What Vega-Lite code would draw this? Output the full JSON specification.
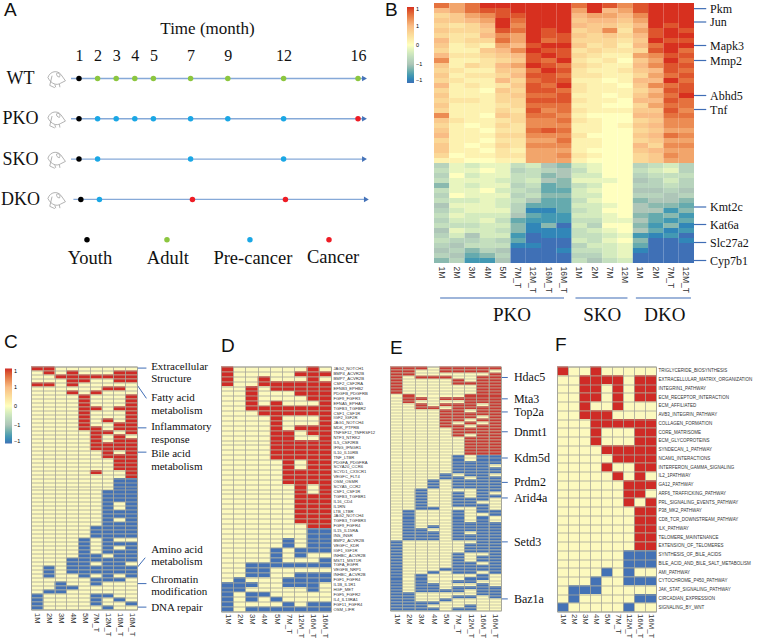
{"$schema":"https://vega.github.io/schema/vega-lite/v6.json","padding":{"left":0,"top":0,"right":0,"bottom":0},"bounds":"flush","spacing":363.5,"resolve":{"scale":{"color":"independent"},"legend":{"color":"independent"}},"config":{"view":{"stroke":null},"axis":{"labelFont":"Liberation Sans","labelColor":"#333333","domain":false,"ticks":false},"title":{"font":"Liberation Sans","fontWeight":"normal","fontSize":19,"color":"#111111","anchor":"start","frame":"group"},"text":{"font":"Liberation Serif","color":"#111111"}},"vconcat":[{"bounds":"flush","spacing":60,"resolve":{"scale":{"color":"independent"},"legend":{"color":"independent"}},"hconcat":[{"width":343,"height":260,"title":{"text":"A","dx":-27,"dy":5,"offset":-12},"encoding":{"x":{"field":"month","type":"quantitative","scale":{"domain":[-1.58,16.86],"nice":false,"zero":false},"axis":{"orient":"top","title":"Time (month)","titleFont":"Liberation Serif","titleFontWeight":"normal","titleFontSize":17,"titleColor":"#111111","titlePadding":10,"titleX":176,"values":[1,2,3,4,5,7,9,12,16],"labelFont":"Liberation Serif","labelFontSize":16,"labelColor":"#111111","labelPadding":1,"offset":-61,"grid":false,"labelFlush":false,"labelOverlap":false}},"y":{"field":"lane","type":"quantitative","scale":{"domain":[5.578,-0.873],"nice":false,"zero":false},"axis":{"title":null,"values":[1,2,3,4],"labelExpr":"['','WT','PKO','SKO','DKO'][datum.value]","labelFont":"Liberation Serif","labelFontSize":18,"labelColor":"#111111","labelAlign":"center","labelPadding":11,"grid":false}}},"layer":[{"data":{"values":[{"lane":1,"month":0.57,"end":16.3},{"lane":2,"month":0.57,"end":16.3},{"lane":3,"month":0.57,"end":16.3},{"lane":4,"month":0.7,"end":16.4}]},"mark":{"type":"rule","color":"#86A9D8","strokeWidth":1.4},"encoding":{"x2":{"field":"end"}}},{"data":{"values":[{"lane":1,"month":16.35},{"lane":2,"month":16.35},{"lane":3,"month":16.35},{"lane":4,"month":16.45}]},"mark":{"type":"point","shape":"triangle-right","filled":true,"color":"#4472B8","size":32,"opacity":1}},{"data":{"values":[{"lane":1,"month":-0.2},{"lane":2,"month":-0.2},{"lane":3,"month":-0.2},{"lane":4,"month":-0.2}]},"mark":{"type":"point","shape":"M-0.95,-0.1 C-0.7,-0.85 0.1,-0.9 0.45,-0.45 L0.95,0.25 L0.45,0.5 C0,0.8 -0.6,0.6 -0.95,-0.1 Z M-0.5,-0.3 L-0.75,0.75 L-0.2,1 M0,-0.55 C0.25,-0.7 0.45,-0.4 0.3,-0.15 C0.05,-0.2 -0.05,-0.35 0,-0.55 Z M-0.2,0.65 L-0.1,0.95 M0.3,0.6 L0.35,0.95","filled":false,"color":"#A0A0A0","size":340,"strokeWidth":0.8,"opacity":1}},{"data":{"values":[{"lane":1,"month":1,"stage":"Youth"},{"lane":1,"month":2,"stage":"Adult"},{"lane":1,"month":3,"stage":"Adult"},{"lane":1,"month":4,"stage":"Adult"},{"lane":1,"month":5,"stage":"Adult"},{"lane":1,"month":7,"stage":"Adult"},{"lane":1,"month":9,"stage":"Adult"},{"lane":1,"month":12,"stage":"Adult"},{"lane":1,"month":16,"stage":"Adult"},{"lane":2,"month":1,"stage":"Youth"},{"lane":2,"month":2,"stage":"Pre-cancer"},{"lane":2,"month":3,"stage":"Pre-cancer"},{"lane":2,"month":4,"stage":"Pre-cancer"},{"lane":2,"month":5,"stage":"Pre-cancer"},{"lane":2,"month":7,"stage":"Pre-cancer"},{"lane":2,"month":9,"stage":"Pre-cancer"},{"lane":2,"month":12,"stage":"Pre-cancer"},{"lane":2,"month":16,"stage":"Cancer"},{"lane":3,"month":1,"stage":"Youth"},{"lane":3,"month":2,"stage":"Pre-cancer"},{"lane":3,"month":7,"stage":"Pre-cancer"},{"lane":3,"month":12,"stage":"Pre-cancer"},{"lane":4,"month":1.1,"stage":"Youth"},{"lane":4,"month":2.1,"stage":"Pre-cancer"},{"lane":4,"month":7.1,"stage":"Cancer"},{"lane":4,"month":12.1,"stage":"Cancer"},{"lane":5,"month":1.43,"stage":"Youth"},{"lane":5,"month":5.73,"stage":"Adult"},{"lane":5,"month":10.19,"stage":"Pre-cancer"},{"lane":5,"month":14.44,"stage":"Cancer"}]},"mark":{"type":"point","filled":true,"size":30,"opacity":1},"encoding":{"color":{"field":"stage","type":"nominal","legend":null,"scale":{"domain":["Youth","Adult","Pre-cancer","Cancer"],"range":["#000000","#8CC63F","#1AA7E5","#EE1C25"]}}}},{"data":{"values":[{"label":"Youth","month":1.59,"lane":5.45},{"label":"Adult","month":5.78,"lane":5.45},{"label":"Pre-cancer","month":10.35,"lane":5.45},{"label":"Cancer","month":14.66,"lane":5.42}]},"mark":{"type":"text","fontSize":18.5},"encoding":{"text":{"field":"label"}}}]},{"width":260,"height":260,"title":{"text":"B","dx":-49,"dy":5,"offset":-12},"layer":[{"data":{"values":[{"r":0,"a":0.8,"b":0.6,"c":0.8,"d":1,"e":1,"f":1,"g":1,"h":1,"i":1,"j":0.8,"k":1,"l":0.9,"m":0.7,"n":0.9,"o":1,"p":1,"q":1},{"r":1,"a":0.5,"b":0.6,"c":0.8,"d":0.9,"e":0.9,"f":1,"g":1,"h":1,"i":1,"j":0.6,"k":1,"l":0.5,"m":0.6,"n":0.9,"o":1,"p":1,"q":1},{"r":2,"a":0.3,"b":0.4,"c":0.6,"d":0.7,"e":0.9,"f":0.9,"g":1,"h":1,"i":1,"j":0.5,"k":0.6,"l":0.6,"m":0.5,"n":0.7,"o":1,"p":1,"q":1},{"r":3,"a":0.4,"b":0.4,"c":0.5,"d":0.6,"e":1,"f":0.8,"g":1,"h":1,"i":1,"j":0.4,"k":0.5,"l":0.5,"m":0.4,"n":0.6,"o":1,"p":1,"q":1},{"r":4,"a":0.3,"b":0.2,"c":0.3,"d":0.5,"e":1,"f":0.7,"g":1,"h":1,"i":1,"j":0.5,"k":0.4,"l":0.4,"m":0.3,"n":0.5,"o":1,"p":0.9,"q":1},{"r":5,"a":0.4,"b":0.3,"c":0.3,"d":0.4,"e":0.9,"f":0.8,"g":1,"h":0.9,"i":1,"j":0.3,"k":0.4,"l":0.7,"m":0.2,"n":0.6,"o":0.9,"p":1,"q":0.9},{"r":6,"a":0.3,"b":0.2,"c":0.2,"d":0.5,"e":0.7,"f":0.6,"g":1,"h":0.9,"i":0.9,"j":0.4,"k":0.3,"l":0.4,"m":0.3,"n":0.5,"o":0.9,"p":1,"q":1},{"r":7,"a":0.5,"b":0.2,"c":0.3,"d":0.3,"e":0.8,"f":0.6,"g":1,"h":0.8,"i":0.9,"j":0.3,"k":0.3,"l":0.3,"m":0.2,"n":0.4,"o":1,"p":0.9,"q":0.9},{"r":8,"a":0.4,"b":0.1,"c":0.2,"d":0.1,"e":0.6,"f":0.5,"g":0.9,"h":1,"i":1,"j":0.4,"k":0.2,"l":0.3,"m":0.1,"n":0.5,"o":0.8,"p":1,"q":1},{"r":9,"a":0.3,"b":0.1,"c":0.1,"d":0.4,"e":0.5,"f":0.7,"g":1,"h":0.9,"i":0.9,"j":0.2,"k":0.3,"l":0.2,"m":0.2,"n":0.3,"o":0.9,"p":1,"q":0.8},{"r":10,"a":0.5,"b":0.2,"c":0.2,"d":0.3,"e":0.4,"f":0.5,"g":0.9,"h":1,"i":0.9,"j":0.3,"k":0.2,"l":0.1,"m":0.1,"n":0.6,"o":0.7,"p":0.9,"q":0.9},{"r":11,"a":0.7,"b":0.1,"c":0.1,"d":0.2,"e":0.3,"f":0.4,"g":0.9,"h":0.8,"i":1,"j":0.2,"k":0.1,"l":0.2,"m":0,"n":0.4,"o":0.6,"p":1,"q":0.8},{"r":12,"a":0.4,"b":0.1,"c":0.3,"d":0.2,"e":0.5,"f":0.6,"g":1,"h":0.9,"i":0.8,"j":0.3,"k":0.2,"l":0.1,"m":0.1,"n":0.5,"o":0.7,"p":0.9,"q":0.9},{"r":13,"a":0.3,"b":0.2,"c":0.1,"d":0.1,"e":0.4,"f":0.4,"g":0.8,"h":1,"i":0.9,"j":0.2,"k":0.1,"l":0.1,"m":0.2,"n":0.4,"o":0.5,"p":0.9,"q":0.8},{"r":14,"a":0.4,"b":0.1,"c":0.2,"d":0.2,"e":0.3,"f":0.5,"g":0.9,"h":0.9,"i":0.8,"j":0.2,"k":0.2,"l":0.1,"m":0.1,"n":0.3,"o":0.6,"p":0.8,"q":0.9},{"r":15,"a":0.3,"b":0.2,"c":0.1,"d":0.1,"e":0.5,"f":0.3,"g":0.8,"h":0.9,"i":0.9,"j":0.1,"k":0.1,"l":0,"m":0.1,"n":0.5,"o":0.5,"p":1,"q":0.8},{"r":16,"a":0.5,"b":0.1,"c":0.2,"d":0.1,"e":0.2,"f":0.4,"g":0.9,"h":0.8,"i":1,"j":0.2,"k":0.1,"l":0.1,"m":0,"n":0.4,"o":0.7,"p":0.8,"q":0.9},{"r":17,"a":0.3,"b":0.1,"c":0.1,"d":0,"e":0.4,"f":0.3,"g":0.9,"h":0.9,"i":0.8,"j":0.2,"k":0.1,"l":0.1,"m":0.1,"n":0.3,"o":0.5,"p":0.9,"q":0.9},{"r":18,"a":0.4,"b":0.1,"c":0.1,"d":0.1,"e":0.3,"f":0.4,"g":0.8,"h":0.8,"i":0.9,"j":0.1,"k":0.1,"l":0,"m":0.1,"n":0.4,"o":0.6,"p":0.8,"q":1},{"r":19,"a":0.3,"b":0.2,"c":0.2,"d":0.1,"e":0.3,"f":0.3,"g":0.9,"h":0.9,"i":0.9,"j":0.2,"k":0.1,"l":0.1,"m":0,"n":0.5,"o":0.5,"p":0.9,"q":0.8},{"r":20,"a":0.4,"b":0.1,"c":0.1,"d":0.1,"e":0.2,"f":0.3,"g":0.8,"h":0.8,"i":0.8,"j":0.1,"k":0.1,"l":0,"m":0,"n":0.3,"o":0.6,"p":0.8,"q":0.8},{"r":21,"a":0.3,"b":0.1,"c":0.1,"d":0.1,"e":0.3,"f":0.2,"g":0.9,"h":0.7,"i":0.8,"j":0.2,"k":0.1,"l":0.1,"m":0.1,"n":0.4,"o":0.4,"p":0.9,"q":0.7},{"r":22,"a":0.7,"b":0.1,"c":0.1,"d":0,"e":0.4,"f":0.3,"g":0.8,"h":0.8,"i":0.7,"j":0.1,"k":0,"l":0,"m":0,"n":0.5,"o":0.5,"p":0.8,"q":0.8},{"r":23,"a":0.4,"b":0.2,"c":0.1,"d":0.1,"e":0.2,"f":0.3,"g":0.7,"h":0.7,"i":0.8,"j":0.2,"k":0.1,"l":0,"m":0,"n":0.3,"o":0.4,"p":0.7,"q":0.7},{"r":24,"a":0.3,"b":0.1,"c":0,"d":0.1,"e":0.3,"f":0.2,"g":0.7,"h":0.7,"i":0.7,"j":0.1,"k":0.1,"l":0,"m":0.1,"n":0.4,"o":0.5,"p":0.7,"q":0.7},{"r":25,"a":0.4,"b":0.1,"c":0.1,"d":0,"e":0.2,"f":0.2,"g":0.8,"h":0.9,"i":0.8,"j":0.1,"k":0.1,"l":0,"m":0,"n":0.3,"o":0.4,"p":0.6,"q":0.6},{"r":26,"a":0.5,"b":0.1,"c":0.1,"d":0.1,"e":0.3,"f":0.3,"g":0.7,"h":0.7,"i":0.7,"j":0.2,"k":0,"l":0,"m":0,"n":0.4,"o":0.5,"p":0.8,"q":0.7},{"r":27,"a":0.3,"b":0.1,"c":0.1,"d":0,"e":0.2,"f":0.2,"g":0.6,"h":0.6,"i":0.8,"j":0.1,"k":0.1,"l":0,"m":0,"n":0.3,"o":0.4,"p":0.6,"q":0.6},{"r":28,"a":0.4,"b":0.1,"c":0,"d":0.1,"e":0.3,"f":0.2,"g":0.7,"h":0.7,"i":0.7,"j":0.1,"k":0.1,"l":0,"m":0,"n":0.5,"o":0.3,"p":0.7,"q":0.7},{"r":29,"a":0.4,"b":0.1,"c":0.1,"d":0,"e":0.2,"f":0.1,"g":0.6,"h":0.6,"i":0.6,"j":0.1,"k":0,"l":0,"m":0,"n":0.4,"o":0.5,"p":0.6,"q":0.6},{"r":30,"a":0.3,"b":0,"c":0.1,"d":0.1,"e":0.2,"f":0.2,"g":0.6,"h":0.6,"i":0.7,"j":0.2,"k":0.1,"l":0,"m":0,"n":0.3,"o":0.4,"p":0.7,"q":0.6},{"r":31,"a":0.1,"b":0.1,"c":0,"d":0,"e":0.1,"f":0.1,"g":0.6,"h":0.6,"i":0.6,"j":0.1,"k":0,"l":0,"m":0,"n":0.3,"o":0.4,"p":0.6,"q":0.6},{"r":32,"a":-0.4,"b":-0.1,"c":-0.2,"d":-0.1,"e":-0.1,"f":-0.3,"g":-0.2,"h":-0.5,"i":-0.6,"j":-0.2,"k":-0.1,"l":0,"m":0,"n":-0.4,"o":-0.3,"p":-0.2,"q":-0.4},{"r":33,"a":-0.3,"b":-0.1,"c":-0.1,"d":0,"e":-0.1,"f":-0.4,"g":-0.3,"h":-0.4,"i":-0.5,"j":-0.3,"k":-0.1,"l":0,"m":0,"n":-0.3,"o":-0.2,"p":-0.1,"q":-0.4},{"r":34,"a":-0.4,"b":0,"c":-0.2,"d":-0.1,"e":-0.1,"f":-0.3,"g":-0.3,"h":-0.6,"i":-0.5,"j":-0.2,"k":-0.2,"l":0,"m":0,"n":-0.4,"o":-0.3,"p":-0.3,"q":-0.3},{"r":35,"a":-0.3,"b":-0.1,"c":-0.1,"d":-0.1,"e":-0.2,"f":-0.3,"g":-0.2,"h":-0.5,"i":-0.6,"j":-0.1,"k":-0.1,"l":-0.1,"m":0,"n":-0.5,"o":-0.4,"p":-0.2,"q":-0.4},{"r":36,"a":-0.6,"b":-0.1,"c":-0.2,"d":-0.1,"e":-0.1,"f":-0.4,"g":-0.3,"h":-0.7,"i":-0.6,"j":-0.3,"k":-0.2,"l":0,"m":0,"n":-0.4,"o":-0.4,"p":-0.3,"q":-0.4},{"r":37,"a":-0.3,"b":-0.1,"c":-0.1,"d":0,"e":-0.2,"f":-0.3,"g":-0.4,"h":-0.7,"i":-0.7,"j":-0.2,"k":-0.1,"l":0,"m":0,"n":-0.5,"o":-0.5,"p":-0.4,"q":-0.5},{"r":38,"a":-0.4,"b":0,"c":-0.1,"d":-0.1,"e":-0.1,"f":-0.4,"g":-0.3,"h":-0.6,"i":-0.6,"j":-0.2,"k":-0.2,"l":0,"m":0,"n":-0.4,"o":-0.4,"p":-0.5,"q":-0.4},{"r":39,"a":-0.3,"b":-0.2,"c":-0.2,"d":-0.1,"e":-0.2,"f":-0.3,"g":-0.5,"h":-0.7,"i":-0.7,"j":-0.3,"k":-0.1,"l":0,"m":0,"n":-0.6,"o":-0.5,"p":-0.5,"q":-0.6},{"r":40,"a":-0.5,"b":-0.1,"c":-0.1,"d":-0.1,"e":-0.2,"f":-0.4,"g":-0.7,"h":-0.7,"i":-0.7,"j":-0.2,"k":-0.2,"l":-0.1,"m":0,"n":-0.5,"o":-0.6,"p":-0.6,"q":-0.7},{"r":41,"a":-0.4,"b":-0.2,"c":-0.1,"d":-0.1,"e":-0.1,"f":-0.4,"g":-0.9,"h":-0.9,"i":-0.7,"j":-0.3,"k":-0.2,"l":0,"m":0,"n":-0.5,"o":-0.5,"p":-0.8,"q":-0.6},{"r":42,"a":-0.3,"b":-0.1,"c":-0.2,"d":-0.2,"e":-0.2,"f":-0.5,"g":-0.7,"h":-0.8,"i":-0.8,"j":-0.2,"k":-0.2,"l":-0.1,"m":0,"n":-0.6,"o":-0.7,"p":-0.6,"q":-0.8},{"r":43,"a":-0.4,"b":-0.2,"c":-0.2,"d":-0.1,"e":-0.3,"f":-0.7,"g":-0.8,"h":-0.8,"i":-0.8,"j":-0.3,"k":-0.3,"l":-0.1,"m":-0.1,"n":-0.5,"o":-0.7,"p":-0.8,"q":-0.7},{"r":44,"a":-0.3,"b":-0.3,"c":-0.3,"d":-0.2,"e":-0.2,"f":-0.6,"g":-0.9,"h":-0.6,"i":-1,"j":-0.2,"k":-0.4,"l":0,"m":0,"n":-0.6,"o":-0.8,"p":-0.6,"q":-0.9},{"r":45,"a":-0.5,"b":-0.1,"c":-0.2,"d":-0.2,"e":-0.3,"f":-0.6,"g":-0.9,"h":-0.9,"i":-0.9,"j":-0.3,"k":-0.2,"l":-0.1,"m":0,"n":-0.5,"o":-0.7,"p":-0.9,"q":-0.8},{"r":46,"a":-0.4,"b":-0.2,"c":-0.5,"d":-0.2,"e":-0.2,"f":-0.8,"g":-1,"h":-0.9,"i":-0.9,"j":-0.3,"k":-0.3,"l":-0.2,"m":-0.1,"n":-0.8,"o":-0.9,"p":-0.8,"q":-1},{"r":47,"a":-0.3,"b":-0.4,"c":-0.4,"d":-0.3,"e":-0.4,"f":-0.7,"g":-1,"h":-1,"i":-1,"j":-0.2,"k":-0.3,"l":-0.1,"m":0,"n":-0.6,"o":-1,"p":-1,"q":-0.9},{"r":48,"a":-0.4,"b":-0.5,"c":-0.3,"d":-0.3,"e":-0.3,"f":-0.9,"g":-0.9,"h":-1,"i":-1,"j":-0.4,"k":-0.2,"l":-0.2,"m":-0.1,"n":-0.7,"o":-1,"p":-1,"q":-1},{"r":49,"a":-0.5,"b":-0.4,"c":-0.6,"d":-0.4,"e":-0.5,"f":-1,"g":-1,"h":-1,"i":-0.9,"j":-0.3,"k":-0.3,"l":-0.2,"m":-0.1,"n":-0.9,"o":-1,"p":-1,"q":-1},{"r":50,"a":-0.4,"b":-0.5,"c":-0.7,"d":-0.6,"e":-0.4,"f":-1,"g":-1,"h":-1,"i":-1,"j":-0.4,"k":-0.4,"l":-0.2,"m":-0.1,"n":-1,"o":-1,"p":-1,"q":-1},{"r":51,"a":-0.6,"b":-0.4,"c":-0.8,"d":-0.8,"e":-0.5,"f":-1,"g":-1,"h":-1,"i":-1,"j":-0.3,"k":-0.5,"l":-0.3,"m":-0.2,"n":-1,"o":-1,"p":-1,"q":-1}]},"transform":[{"fold":["a","b","c","d","e","f","g","h","i","j","k","l","m","n","o","p","q"],"as":["col","v"]}],"mark":"rect","encoding":{"x":{"field":"col","type":"nominal","scale":{"domain":["a","b","c","d","e","f","g","h","i","j","k","l","m","n","o","p","q"]},"axis":{"title":null,"labelExpr":"{'a':'1M','b':'2M','c':'3M','d':'4M','e':'5M','f':'7M_T','g':'12M_T','h':'16M_T','i':'16M_T','j':'1M','k':'2M','l':'7M','m':'12M','n':'1M','o':'2M','p':'7M_T','q':'12M_T'}[datum.value]","labelAngle":90,"labelFontSize":8.5,"labelPadding":3,"labelOverlap":false,"grid":false}},"y":{"field":"r","type":"ordinal","axis":null},"color":{"field":"v","type":"quantitative","scale":{"domain":[-1,-0.5,0,0.5,1],"range":["#3F70B6","#AEC6B8","#FFFFBF","#F9BC85","#D7301F"]},"legend":{"orient":"none","legendX":-27,"legendY":4,"title":null,"gradientLength":76,"gradientThickness":7,"labelFontSize":5.5,"values":[-1,-0.5,0,0.5,1],"labelFont":"Liberation Sans"}}}},{"data":{"values":[{"x":17,"x2":17.8,"y":1.13,"y2":1.13},{"x":17,"x2":17.8,"y":3.8,"y2":3.8},{"x":17,"x2":17.8,"y":8.5,"y2":8.5},{"x":17,"x2":17.8,"y":11.5,"y2":11.5},{"x":17,"x2":17.8,"y":18.5,"y2":18.5},{"x":17,"x2":17.8,"y":21.3,"y2":21.3},{"x":17,"x2":17.8,"y":40.8,"y2":40.8},{"x":17,"x2":17.8,"y":44.3,"y2":44.3},{"x":17,"x2":17.8,"y":47.9,"y2":47.9},{"x":17,"x2":17.8,"y":51.5,"y2":51.5},{"x":0.4,"x2":8.5,"y":59,"y2":59},{"x":9.25,"x2":12.65,"y":59,"y2":59},{"x":13.2,"x2":16.8,"y":59,"y2":59}]},"mark":{"type":"rule","color":"#3F6DB5","strokeWidth":1.2},"encoding":{"x":{"field":"x","type":"quantitative","scale":{"domain":[0,17],"nice":false,"zero":false},"axis":null},"x2":{"field":"x2"},"y":{"field":"y","type":"quantitative","scale":{"domain":[52,0],"nice":false,"zero":false},"axis":null},"y2":{"field":"y2"}}},{"data":{"values":[{"x":18.05,"y":1.13,"t":"Pkm"},{"x":18.05,"y":3.8,"t":"Jun"},{"x":18.05,"y":8.5,"t":"Mapk3"},{"x":18.05,"y":11.5,"t":"Mmp2"},{"x":18.05,"y":18.5,"t":"Abhd5"},{"x":18.05,"y":21.3,"t":"Tnf"},{"x":18.05,"y":40.8,"t":"Kmt2c"},{"x":18.05,"y":44.3,"t":"Kat6a"},{"x":18.05,"y":47.9,"t":"Slc27a2"},{"x":18.05,"y":51.5,"t":"Cyp7b1"}]},"mark":{"type":"text","fontSize":12,"align":"left"},"encoding":{"x":{"field":"x","type":"quantitative","scale":{"domain":[0,17],"nice":false,"zero":false},"axis":null},"y":{"field":"y","type":"quantitative","scale":{"domain":[52,0],"nice":false,"zero":false},"axis":null},"text":{"field":"t"}}},{"data":{"values":[{"x":5.1,"y":62.3,"t":"PKO"},{"x":11,"y":62.3,"t":"SKO"},{"x":15.1,"y":62.3,"t":"DKO"}]},"mark":{"type":"text","fontSize":19,"align":"center"},"encoding":{"x":{"field":"x","type":"quantitative","scale":{"domain":[0,17],"nice":false,"zero":false},"axis":null},"y":{"field":"y","type":"quantitative","scale":{"domain":[52,0],"nice":false,"zero":false},"axis":null},"text":{"field":"t"}}}],"resolve":{"scale":{"x":"independent","y":"independent"}}}]},{"bounds":"flush","spacing":0,"resolve":{"scale":{"color":"independent"},"legend":{"color":"independent"}},"hconcat":[{"width":106,"height":243,"title":{"text":"C","dx":-27,"offset":9},"view":{"fill":"#FCF9BE","stroke":"#A6A69A"},"layer":[{"data":{"values":[{"r":0,"a":1,"b":1},{"r":1,"b":1,"d":1,"h":1,"i":1},{"r":2,"c":1,"d":1,"e":1,"f":1,"g":1,"h":1,"i":1},{"r":3,"d":1,"e":1,"h":1,"i":1},{"r":4,"a":1,"b":1,"d":1},{"r":5,"g":1,"h":1},{"r":6,"d":1,"f":1},{"r":7,"e":1,"i":1},{"r":8,"e":1,"i":1},{"r":9,"e":1,"i":1},{"r":10,"e":1,"f":1,"h":1,"i":1},{"r":11,"e":1,"i":1},{"r":12,"e":1,"i":1},{"r":13,"e":1,"g":1,"i":1},{"r":14,"e":1,"h":1,"i":1},{"r":15,"e":1,"f":1,"h":1,"i":1},{"r":16,"f":1,"g":1,"i":1},{"r":17,"f":1,"h":1},{"r":18,"f":1,"h":1,"i":1},{"r":19,"f":1,"g":1,"h":1,"i":1},{"r":20,"f":1,"g":1,"h":1,"i":1},{"r":21,"g":1,"i":1},{"r":22,"g":1,"h":1,"i":1},{"r":23,"h":1,"i":1},{"r":24,"h":1,"i":1},{"r":25,"h":1,"i":1},{"r":26,"f":1,"i":1},{"r":27,"i":1},{"r":28,"h":-1,"i":-1},{"r":29,"h":-1,"i":-1},{"r":30,"h":-1,"i":-1},{"r":31,"g":-1,"h":-1,"i":-1},{"r":32,"g":-1,"h":-1,"i":-1},{"r":33,"g":-1,"h":-1,"i":-1},{"r":34,"g":-1,"i":-1},{"r":35,"g":-1,"i":-1},{"r":36,"g":-1,"h":-1,"i":-1},{"r":37,"g":-1,"h":-1,"i":-1},{"r":38,"g":-1,"i":-1},{"r":39,"g":-1,"h":-1,"i":-1},{"r":40,"f":-1,"g":-1,"h":-1,"i":-1},{"r":41,"f":-1,"g":-1,"h":-1,"i":-1},{"r":42,"f":-1,"g":-1,"h":-1,"i":-1},{"r":43,"e":-1,"g":-1},{"r":44,"e":-1,"g":-1,"h":-1,"i":-1},{"r":45,"e":-1,"g":-1,"i":-1},{"r":46,"e":-1,"g":-1,"h":-1,"i":-1},{"r":47,"e":-1,"f":-1,"h":-1,"i":-1},{"r":48,"d":-1,"e":-1,"f":-1,"g":-1,"h":-1,"i":-1},{"r":49,"d":-1,"e":-1,"g":-1,"h":-1},{"r":50,"b":-1,"d":-1,"e":-1,"f":-1,"g":-1,"h":-1,"i":-1},{"r":51,"b":-1,"d":-1,"e":-1,"f":-1,"g":-1,"h":-1,"i":-1},{"r":52,"b":-1,"e":-1,"g":-1,"i":-1},{"r":53,"f":-1,"g":-1,"h":-1},{"r":54,"c":-1,"f":-1},{"r":55,"c":-1,"d":-1},{"r":56,"b":-1,"c":-1},{"r":57,"a":-1,"f":-1,"g":-1},{"r":58,"a":-1,"f":-1,"h":-1},{"r":59,"a":-1,"f":-1,"i":-1},{"r":60,"a":-1,"g":-1}]},"transform":[{"fold":["a","b","c","d","e","f","g","h","i"],"as":["col","v"]},{"filter":"isValid(datum.v)"}],"mark":"rect","encoding":{"x":{"field":"col","type":"nominal","scale":{"domain":["a","b","c","d","e","f","g","h","i"]},"axis":{"title":null,"labelExpr":"{'a':'1M','b':'2M','c':'3M','d':'4M','e':'5M','f':'7M_T','g':'12M_T','h':'16M_T','i':'16M_T'}[datum.value]","labelAngle":90,"labelFontSize":7.5,"labelPadding":3,"labelOverlap":false,"grid":true,"tickBand":"extent","gridColor":"#A6A69A","gridWidth":0.8,"zindex":1}},"y":{"field":"r","type":"ordinal","scale":{"domain":[0,1,2,3,4,5,6,7,8,9,10,11,12,13,14,15,16,17,18,19,20,21,22,23,24,25,26,27,28,29,30,31,32,33,34,35,36,37,38,39,40,41,42,43,44,45,46,47,48,49,50,51,52,53,54,55,56,57,58,59,60]},"axis":{"title":null,"labels":false,"grid":true,"tickBand":"extent","gridColor":"#A6A69A","gridWidth":0.8,"zindex":1}},"color":{"field":"v","type":"quantitative","scale":{"domain":[-1,-0.5,0,0.5,1],"range":["#4472B5","#AEC6B8","#FFFFBF","#F9BC85","#CF2B26"]},"legend":{"orient":"none","legendX":-26,"legendY":2,"title":null,"gradientLength":75,"gradientThickness":7,"labelFontSize":5.5,"values":[-1,-0.5,0,0.5,1],"labelFont":"Liberation Sans"}}}},{"data":{"values":[{"x":9,"x2":9.8,"y":0.4,"y2":0.4},{"x":9,"x2":9.8,"y":15.4,"y2":15.4},{"x":9,"x2":9.8,"y":21.5,"y2":21.5},{"x":9,"x2":9.8,"y":54.5,"y2":54.5},{"x":9,"x2":9.8,"y":60.4,"y2":60.4},{"x":9,"x2":9.8,"y":4.6,"y2":8},{"x":9,"x2":9.7,"y":50.5,"y2":48}]},"mark":{"type":"rule","color":"#3F6DB5","strokeWidth":1},"encoding":{"x":{"field":"x","type":"quantitative","scale":{"domain":[0,9],"nice":false,"zero":false},"axis":null},"x2":{"field":"x2"},"y":{"field":"y","type":"quantitative","scale":{"domain":[61,0],"nice":false,"zero":false},"axis":null},"y2":{"field":"y2"}}},{"data":{"values":[{"x":10.2,"y":0.2,"t":"Extracellular"},{"x":10.2,"y":3.2,"t":"Structure"},{"x":10.2,"y":8,"t":"Fatty acid"},{"x":10.2,"y":11.2,"t":"metabolism"},{"x":10.2,"y":15.3,"t":"Inflammatory"},{"x":10.2,"y":18.4,"t":"response"},{"x":10.2,"y":22,"t":"Bile acid"},{"x":10.2,"y":25.2,"t":"metabolism"},{"x":10.2,"y":46.1,"t":"Amino acid"},{"x":10.2,"y":49.2,"t":"metabolism"},{"x":10.2,"y":53.5,"t":"Chromatin"},{"x":10.2,"y":56.5,"t":"modification"},{"x":10.2,"y":60.6,"t":"DNA repair"}]},"mark":{"type":"text","fontSize":11,"align":"left"},"encoding":{"x":{"field":"x","type":"quantitative","scale":{"domain":[0,9],"nice":false,"zero":false},"axis":null},"y":{"field":"y","type":"quantitative","scale":{"domain":[61,0],"nice":false,"zero":false},"axis":null},"text":{"field":"t"}}}],"resolve":{"scale":{"x":"independent","y":"independent"}}},{"width":84,"height":10,"data":{"values":[]},"mark":"rect","encoding":{}},{"width":110,"height":245,"title":{"text":"D","dx":0,"offset":9},"view":{"fill":"#FCF9BE","stroke":"#A6A69A"},"data":{"values":[{"r":1,"a":1,"h":1},{"r":2,"a":1,"g":1,"h":1,"i":1},{"r":3,"a":1,"d":1,"h":1},{"r":4,"a":1,"d":1,"e":1,"f":1,"g":1,"h":1,"i":1},{"r":5,"c":1,"e":1,"f":1,"g":1,"h":1,"i":1},{"r":6,"c":1,"g":1,"h":1,"i":1},{"r":7,"c":1,"h":1,"i":1},{"r":8,"c":1,"e":1,"i":1},{"r":9,"c":1,"d":1,"e":1,"f":1,"g":1,"h":1,"i":1},{"r":10,"d":1,"e":1,"f":1,"g":1,"h":1,"i":1},{"r":11,"e":1,"i":1},{"r":12,"e":1,"i":1},{"r":13,"e":1,"g":1,"h":1,"i":1},{"r":14,"e":1,"f":1,"h":1,"i":1},{"r":15,"e":1,"f":1,"i":1},{"r":16,"e":1,"f":1,"g":1,"h":1,"i":1},{"r":17,"e":1,"f":1,"g":1,"h":1,"i":1},{"r":18,"e":1,"f":1,"g":1,"h":1,"i":1},{"r":19,"e":1,"f":1,"g":1,"h":1,"i":1},{"r":20,"f":1,"h":1,"i":1},{"r":21,"f":1,"h":1,"i":1},{"r":22,"f":1,"g":1,"h":1,"i":1},{"r":23,"f":1,"g":1,"h":1,"i":1},{"r":24,"f":1,"g":1,"h":1,"i":1},{"r":25,"g":1,"i":1},{"r":26,"g":1,"i":1},{"r":27,"g":1,"h":1,"i":1},{"r":28,"g":1,"h":1,"i":1},{"r":29,"g":1,"h":1,"i":1},{"r":30,"g":1,"h":1,"i":1},{"r":31,"g":1,"h":1,"i":1},{"r":32,"g":1,"h":1,"i":1},{"r":33,"h":1,"i":1},{"r":34,"h":-1,"i":-1},{"r":35,"h":-1,"i":-1},{"r":36,"f":-1,"h":-1,"i":-1},{"r":37,"f":-1,"h":-1,"i":-1},{"r":38,"e":-1,"g":-1,"h":-1,"i":-1},{"r":39,"e":-1,"g":-1},{"r":40,"e":-1,"i":-1},{"r":41,"c":-1,"d":-1,"e":-1,"f":-1,"g":-1,"h":-1,"i":-1},{"r":42,"c":-1,"d":-1},{"r":43,"c":-1,"d":-1,"g":-1,"h":-1,"i":-1},{"r":44,"b":-1,"f":-1,"g":-1,"h":-1,"i":-1},{"r":45,"a":-1,"b":-1,"c":-1,"f":-1,"g":-1,"h":-1},{"r":46,"a":-1,"b":-1,"h":-1},{"r":47,"a":-1,"c":-1,"d":-1},{"r":48,"a":-1,"c":-1,"e":-1},{"r":49,"a":-1,"f":-1,"h":-1,"i":-1},{"r":50,"a":-1,"c":-1,"d":-1,"e":-1,"f":-1,"g":-1,"h":-1,"i":-1}]},"transform":[{"fold":["a","b","c","d","e","f","g","h","i"],"as":["col","v"]},{"filter":"isValid(datum.v)"}],"mark":"rect","encoding":{"x":{"field":"col","type":"nominal","scale":{"domain":["a","b","c","d","e","f","g","h","i"]},"axis":{"title":null,"labelExpr":"{'a':'1M','b':'2M','c':'3M','d':'4M','e':'5M','f':'7M_T','g':'12M_T','h':'16M_T','i':'16M_T'}[datum.value]","labelAngle":90,"labelFontSize":7.8,"labelPadding":2,"labelOverlap":false,"grid":true,"tickBand":"extent","gridColor":"#A6A69A","gridWidth":0.8,"zindex":1}},"y":{"field":"r","type":"ordinal","scale":{"domain":[1,2,3,4,5,6,7,8,9,10,11,12,13,14,15,16,17,18,19,20,21,22,23,24,25,26,27,28,29,30,31,32,33,34,35,36,37,38,39,40,41,42,43,44,45,46,47,48,49,50]},"axis":{"title":null,"orient":"right","labelFontSize":4.2,"labelPadding":2,"labelOverlap":false,"labelExpr":"['','JAG2_NOTCH1','BMP4_ACVR2B','BMP7_ACVR2B','CSF2_CSF2RA','EFNB3_EPHB2','PDGFB_PDGFRB','FGF9_FGFR3','EFNA5_EPHA5','TGFB3_TGFBR2','CSF1_CSF1R','IGF2_IGF2R','JAG1_NOTCH4','MDK_PTPRB','TNFSF12_TNFRSF12','NTF3_NTRK2','IL5_CSF2RB','IFNG_IFNGR1','IL10_IL10RB','TNF_LTBR','PDGFA_PDGFRA','SCYA20_CCR6','SCYD1_CX3CR1','VEGFC_FLT4','OSM_OSMR','SCYA5_CCR2','CSF1_CSF1R','TGFB3_TGFBR1','IL16_CD4','IL1RN','LTB_LTBR','JAG2_NOTCH4','TGFB3_TGFBR3','FGF9_FGFR4','IL15_IL15RA','INS_INSR','BMP2_ACVR2B','VEGFC_KDR','IGF1_IGF1R','INHBC_ACVR2B','MST1_MST1R','TGFA_EGFR','VEGFB_NRP1','INHBC_ACVR2B','FGF1_FGFR4','IL1B_IL1R1','HGF_MET','FGF5_FGFR2','IL4_IL13RA1','FGF11_FGFR4','OSM_LIFR'][datum.value]","grid":true,"tickBand":"extent","gridColor":"#A6A69A","gridWidth":0.8,"zindex":1}},"color":{"field":"v","type":"quantitative","scale":{"domain":[-1,0,1],"range":["#4472B5","#FFFFBF","#CF2B26"]},"legend":null}}},{"width":59,"height":10,"data":{"values":[]},"mark":"rect","encoding":{}},{"width":111,"height":244,"title":{"text":"E","dx":0,"offset":9},"view":{"fill":"#FCF9BE","stroke":"#A6A69A"},"layer":[{"data":{"values":[{"r":0,"a":1,"b":1,"c":1,"e":1,"f":1,"g":1,"h":1,"i":1},{"r":1,"a":1,"b":1,"e":1,"f":1,"g":1,"h":1},{"r":2,"a":1,"b":1,"i":1},{"r":3,"a":1,"c":1,"d":1,"e":1,"h":1,"i":1},{"r":4,"a":1,"f":1,"h":1,"i":1},{"r":5,"a":1,"f":1,"g":1,"h":1,"i":1},{"r":6,"a":1,"h":1,"i":1},{"r":7,"a":1,"h":1,"i":1},{"r":8,"a":1,"h":1,"i":1},{"r":9,"b":1,"g":1,"h":1,"i":1},{"r":10,"b":1,"c":1,"e":1,"f":1,"g":1,"h":1,"i":1},{"r":11,"b":1,"g":1,"h":1,"i":1},{"r":12,"c":1,"e":1,"f":1,"g":1,"i":1},{"r":13,"c":1,"d":1,"f":1,"g":1,"h":1,"i":1},{"r":14,"e":1,"f":1,"h":1,"i":1},{"r":15,"e":1,"f":1,"g":1,"h":1,"i":1},{"r":16,"e":1,"f":1,"g":1,"i":1},{"r":17,"e":1,"f":1,"h":1,"i":1},{"r":18,"e":1,"g":1,"i":1},{"r":19,"e":1,"f":1,"h":1,"i":1},{"r":20,"f":1,"g":1,"h":1,"i":1},{"r":21,"f":1,"g":1,"h":1,"i":1},{"r":22,"f":1,"h":1,"i":1},{"r":23,"g":1,"h":1,"i":1},{"r":24,"g":1,"h":1,"i":1},{"r":25,"g":1,"h":1,"i":1},{"r":26,"g":1,"h":1,"i":1},{"r":27,"g":1,"h":1,"i":1},{"r":28,"g":1,"h":1,"i":1},{"r":29,"f":-1,"h":-1,"i":-1},{"r":30,"f":-1,"h":-1,"i":-1},{"r":31,"f":-1,"g":-1,"h":-1,"i":-1},{"r":32,"f":-1,"g":-1,"h":-1},{"r":33,"f":-1,"g":-1,"h":-1,"i":-1},{"r":34,"f":-1,"g":-1,"h":-1,"i":-1},{"r":35,"e":-1,"g":-1,"h":-1},{"r":36,"e":-1,"f":-1,"h":-1,"i":-1},{"r":37,"d":-1,"f":-1,"g":-1,"h":-1,"i":-1},{"r":38,"d":-1,"f":-1,"g":-1,"h":-1,"i":-1},{"r":39,"d":-1,"f":-1,"g":-1,"h":-1,"i":-1},{"r":40,"c":-1,"h":-1,"i":-1},{"r":41,"c":-1,"f":-1,"h":-1},{"r":42,"c":-1,"f":-1,"h":-1,"i":-1},{"r":43,"c":-1,"f":-1,"g":-1,"h":-1},{"r":44,"c":-1,"f":-1,"g":-1},{"r":45,"c":-1,"f":-1,"g":-1,"h":-1},{"r":46,"c":-1,"d":-1,"h":-1},{"r":47,"b":-1,"f":-1,"h":-1,"i":-1},{"r":48,"b":-1,"f":-1,"i":-1},{"r":49,"b":-1,"f":-1,"h":-1},{"r":50,"b":-1,"f":-1,"h":-1},{"r":51,"b":-1,"f":-1,"g":-1,"h":-1,"i":-1},{"r":52,"b":-1,"d":-1,"f":-1,"g":-1,"h":-1,"i":-1},{"r":53,"b":-1,"c":-1,"f":-1,"g":-1,"h":-1,"i":-1},{"r":54,"b":-1,"c":-1,"d":-1,"f":-1,"h":-1,"i":-1},{"r":55,"b":-1,"c":-1,"d":-1,"f":-1,"g":-1,"h":-1,"i":-1},{"r":56,"b":-1,"c":-1,"d":-1,"f":-1,"g":-1,"h":-1,"i":-1},{"r":57,"a":-1,"h":-1,"i":-1},{"r":58,"a":-1,"g":-1,"h":-1,"i":-1},{"r":59,"a":-1,"g":-1,"h":-1,"i":-1},{"r":60,"a":-1,"g":-1,"h":-1,"i":-1},{"r":61,"a":-1,"f":-1,"i":-1},{"r":62,"a":-1,"f":-1,"h":-1,"i":-1},{"r":63,"a":-1,"f":-1,"h":-1,"i":-1},{"r":64,"a":-1,"f":-1,"g":-1,"i":-1},{"r":65,"a":-1,"f":-1,"g":-1,"h":-1,"i":-1},{"r":66,"a":-1,"e":-1,"f":-1,"g":-1,"h":-1,"i":-1},{"r":67,"a":-1,"d":-1,"f":-1,"g":-1,"i":-1},{"r":68,"a":-1,"c":-1,"h":-1},{"r":69,"a":-1,"c":-1,"g":-1,"h":-1},{"r":70,"a":-1,"c":-1,"f":-1,"g":-1},{"r":71,"a":-1,"c":-1,"d":-1,"h":-1},{"r":72,"a":-1,"c":-1,"d":-1,"f":-1,"g":-1,"h":-1,"i":-1},{"r":73,"a":-1,"c":-1,"d":-1,"e":-1,"f":-1,"h":-1,"i":-1},{"r":74,"a":-1,"b":-1,"h":-1,"i":-1},{"r":75,"a":-1,"b":-1,"f":-1,"g":-1,"i":-1},{"r":76,"a":-1,"b":-1,"e":-1},{"r":77,"a":-1,"b":-1,"c":-1,"d":-1},{"r":78,"a":-1,"b":-1,"c":-1,"g":-1},{"r":79,"a":-1,"b":-1,"c":-1,"d":-1,"f":-1,"g":-1}]},"transform":[{"fold":["a","b","c","d","e","f","g","h","i"],"as":["col","v"]},{"filter":"isValid(datum.v)"}],"mark":"rect","encoding":{"x":{"field":"col","type":"nominal","scale":{"domain":["a","b","c","d","e","f","g","h","i"]},"axis":{"title":null,"labelExpr":"{'a':'1M','b':'2M','c':'3M','d':'4M','e':'5M','f':'7M_T','g':'12M_T','h':'16M_T','i':'16M_T'}[datum.value]","labelAngle":90,"labelFontSize":7.8,"labelPadding":3,"labelOverlap":false,"grid":true,"tickBand":"extent","gridColor":"#A6A69A","gridWidth":0.8,"zindex":1}},"y":{"field":"r","type":"ordinal","scale":{"domain":[0,1,2,3,4,5,6,7,8,9,10,11,12,13,14,15,16,17,18,19,20,21,22,23,24,25,26,27,28,29,30,31,32,33,34,35,36,37,38,39,40,41,42,43,44,45,46,47,48,49,50,51,52,53,54,55,56,57,58,59,60,61,62,63,64,65,66,67,68,69,70,71,72,73,74,75,76,77,78,79]},"axis":{"title":null,"labels":false,"grid":true,"tickBand":"extent","gridColor":"#B5B5A5","gridWidth":0.7,"zindex":1}},"color":{"field":"v","type":"quantitative","scale":{"domain":[-1,0,1],"range":["#4472B5","#FFFFBF","#C93A33"]},"legend":null}}},{"data":{"values":[{"x":9,"x2":9.55,"y":3.6},{"x":9,"x2":9.55,"y":10.6},{"x":9,"x2":9.55,"y":14.9},{"x":9,"x2":9.55,"y":21.4},{"x":9,"x2":9.55,"y":30},{"x":9,"x2":9.55,"y":38},{"x":9,"x2":9.55,"y":43.1},{"x":9,"x2":9.55,"y":57.5},{"x":9,"x2":9.55,"y":76.2}]},"mark":{"type":"rule","color":"#3F6DB5","strokeWidth":1},"encoding":{"x":{"field":"x","type":"quantitative","scale":{"domain":[0,9],"nice":false,"zero":false},"axis":null},"x2":{"field":"x2"},"y":{"field":"y","type":"quantitative","scale":{"domain":[80,0],"nice":false,"zero":false},"axis":null}}},{"data":{"values":[{"x":10.05,"y":3.6,"t":"Hdac5"},{"x":10.05,"y":10.6,"t":"Mta3"},{"x":10.05,"y":14.9,"t":"Top2a"},{"x":10.05,"y":21.4,"t":"Dnmt1"},{"x":10.05,"y":30,"t":"Kdm5d"},{"x":10.05,"y":38,"t":"Prdm2"},{"x":10.05,"y":43.1,"t":"Arid4a"},{"x":10.05,"y":57.5,"t":"Setd3"},{"x":10.05,"y":76.2,"t":"Baz1a"}]},"mark":{"type":"text","fontSize":12,"align":"left"},"encoding":{"x":{"field":"x","type":"quantitative","scale":{"domain":[0,9],"nice":false,"zero":false},"axis":null},"y":{"field":"y","type":"quantitative","scale":{"domain":[80,0],"nice":false,"zero":false},"axis":null},"text":{"field":"t"}}}],"resolve":{"scale":{"x":"independent","y":"independent"}}},{"width":56,"height":10,"data":{"values":[]},"mark":"rect","encoding":{}},{"width":99,"height":245,"title":{"text":"F","dx":-2,"offset":9},"view":{"fill":"#FCF9BE","stroke":"#A6A69A"},"data":{"values":[{"r":0,"a":1,"d":1},{"r":1,"c":1,"d":1,"e":1,"f":1,"h":1,"i":1},{"r":2,"c":1,"d":1,"f":1,"h":1,"i":1},{"r":3,"c":1,"d":1,"f":1,"h":1,"i":1},{"r":4,"c":1,"f":1},{"r":5,"c":1,"d":1,"e":1},{"r":6,"d":1,"e":1,"f":1,"g":1,"h":1,"i":1},{"r":7,"d":1,"h":1,"i":1},{"r":8,"d":1,"h":1,"i":1},{"r":9,"e":1,"f":1,"g":1,"h":1,"i":1},{"r":10,"f":1,"g":1,"h":1,"i":1},{"r":11,"e":1,"h":1,"i":1},{"r":12,"f":1,"h":1},{"r":13,"g":1,"h":1,"i":1},{"r":14,"g":1,"h":1},{"r":15,"g":1,"i":1},{"r":16,"h":1,"i":1},{"r":17,"h":1,"i":1},{"r":18,"h":1,"i":1},{"r":19,"h":1,"i":1},{"r":20,"h":1,"i":1},{"r":21,"g":-1,"h":-1,"i":-1},{"r":22,"g":-1,"h":-1,"i":-1},{"r":23,"e":-1,"g":-1},{"r":24,"d":-1,"g":-1,"h":-1,"i":-1},{"r":25,"b":-1,"c":-1,"d":-1},{"r":26,"b":-1,"h":-1,"i":-1},{"r":27,"a":-1,"g":-1}]},"transform":[{"fold":["a","b","c","d","e","f","g","h","i"],"as":["col","v"]},{"filter":"isValid(datum.v)"}],"mark":"rect","encoding":{"x":{"field":"col","type":"nominal","scale":{"domain":["a","b","c","d","e","f","g","h","i"]},"axis":{"title":null,"labelExpr":"{'a':'1M','b':'2M','c':'3M','d':'4M','e':'5M','f':'7M_T','g':'12M_T','h':'16M_T','i':'16M_T'}[datum.value]","labelAngle":90,"labelFontSize":7.8,"labelPadding":2,"labelOverlap":false,"grid":true,"tickBand":"extent","gridColor":"#A6A69A","gridWidth":0.8,"zindex":1}},"y":{"field":"r","type":"ordinal","scale":{"domain":[0,1,2,3,4,5,6,7,8,9,10,11,12,13,14,15,16,17,18,19,20,21,22,23,24,25,26,27]},"axis":{"title":null,"orient":"right","labelFontSize":4.5,"labelPadding":2,"labelOverlap":false,"labelExpr":"['TRIGLYCERIDE_BIOSYNTHESIS','EXTRACELLULAR_MATRIX_ORGANIZATION','INTEGRIN1_PATHWAY','ECM_RECEPTOR_INTERACTION','ECM_AFFILIATED','AVB3_INTEGRIN_PATHWAY','COLLAGEN_FORMATION','CORE_MATRISOME','ECM_GLYCOPROTEINS','SYNDECAN_1_PATHWAY','NCAM1_INTERACTIONS','INTERFERON_GAMMA_SIGNALING','IL2_1PATHWAY','GA12_PATHWAY','ARF6_TRAFFICKING_PATHWAY','PRL_SIGNALING_EVENTS_PATHWAY','P38_MK2_PATHWAY','CD8_TCR_DOWNSTREAM_PATHWAY','ILK_PATHWAY','TELOMERE_MAINTENANCE','EXTENSION_OF_TELOMERES','SYNTHESIS_OF_BILE_ACIDS','BILE_ACID_AND_BILE_SALT_METABOLISM','AMI_PATHWAY','CYTOCHROME_P450_PATHWAY','JAK_STAT_SIGNALING_PATHWAY','CIRCADIAN_EXPRESSION','SIGNALING_BY_WNT'][datum.value]","grid":true,"tickBand":"extent","gridColor":"#A6A69A","gridWidth":0.8,"zindex":1}},"color":{"field":"v","type":"quantitative","scale":{"domain":[-1,0,1],"range":["#4472B5","#FFFFBF","#CF2B26"]},"legend":null}}}]}]}
